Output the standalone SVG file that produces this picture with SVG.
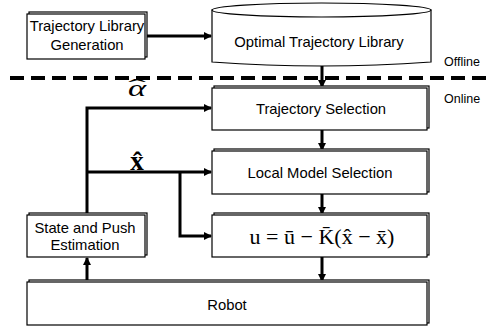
<svg xmlns="http://www.w3.org/2000/svg" width="487" height="326" viewBox="0 0 487 326">
<defs>
<style>
.box{fill:#fff;stroke:#000;stroke-width:1.2}
.t{font-family:"Liberation Sans",Arial,sans-serif;font-size:14.8px;text-anchor:middle;fill:#000}
.s{font-family:"Liberation Sans",Arial,sans-serif;font-size:12.5px;fill:#000}
.c{fill:none;stroke:#000;stroke-width:3}
.m{font-family:"Liberation Serif","DejaVu Serif",serif;fill:#000;text-anchor:middle}
</style>
<marker id="ah" markerUnits="userSpaceOnUse" markerWidth="8" markerHeight="8" refX="7" refY="4" orient="auto">
<path d="M0,0 L8,4 L0,8 Z" fill="#000"/>
</marker>
</defs>
<rect width="487" height="326" fill="#fff"/>
<g id="connectors">
<line class="c" x1="147" y1="36" x2="211" y2="36" marker-end="url(#ah)"/>
<line class="c" x1="322" y1="66" x2="322" y2="87" marker-end="url(#ah)"/>
<line class="c" x1="322" y1="130" x2="322" y2="150" marker-end="url(#ah)"/>
<line class="c" x1="322" y1="194" x2="322" y2="214" marker-end="url(#ah)"/>
<line class="c" x1="322" y1="257" x2="322" y2="281" marker-end="url(#ah)"/>
<line class="c" x1="87" y1="282" x2="87" y2="258" marker-end="url(#ah)"/>
<polyline class="c" points="87,215 87,108 211,108" marker-end="url(#ah)"/>
<line class="c" x1="87" y1="172" x2="211" y2="172" marker-end="url(#ah)"/>
<polyline class="c" points="180,172 180,236 211,236" marker-end="url(#ah)"/>
<line x1="10" y1="78" x2="487" y2="78" stroke="#000" stroke-width="4" stroke-dasharray="14,7"/>
</g>
<g id="tlg">
<rect class="box" x="29" y="12" width="118" height="45"/>
<rect class="box" x="27" y="14" width="118" height="45"/>
<text class="t" x="87" y="31">Trajectory Library</text>
<text class="t" x="87" y="50">Generation</text>
</g>
<g id="library">
<path class="box" d="M212,10 L212,62 Q321.5,70 431,62 L431,10 Z"/>
<ellipse class="box" cx="321.5" cy="10" rx="109.5" ry="7"/>
<text class="t" x="319" y="47">Optimal Trajectory Library</text>
</g>
<g id="labels">
<text class="s" x="444" y="66">Offline</text>
<text class="s" x="444" y="103">Online</text>
<text class="m" x="0" y="0" font-size="23" font-style="italic" transform="translate(137,96) scale(1.5,1)">α</text>
<text class="m" x="0" y="0" font-size="22" transform="translate(137,94) scale(2.4,1)">ˆ</text>
<text class="m" x="137" y="170" font-size="27" font-weight="bold">x̂</text>
</g>
<g id="ts">
<rect class="box" x="214" y="86" width="215" height="42"/>
<rect class="box" x="212" y="88" width="215" height="42"/>
<text class="t" x="321" y="114">Trajectory Selection</text>
</g>
<g id="lms">
<rect class="box" x="214" y="149" width="215" height="43"/>
<rect class="box" x="212" y="151" width="215" height="43"/>
<text class="t" x="320" y="178">Local Model Selection</text>
</g>
<g id="control">
<rect class="box" x="214" y="213" width="215" height="42"/>
<rect class="box" x="212" y="215" width="215" height="42"/>
<text class="m" x="322" y="244" font-size="22">u = ū − K̄(x̂ − x̄)</text>
</g>
<g id="spe">
<rect class="box" x="29" y="213" width="118" height="42"/>
<rect class="box" x="27" y="215" width="118" height="42"/>
<text class="t" x="85" y="233">State and Push</text>
<text class="t" x="85" y="250">Estimation</text>
</g>
<g id="robot">
<rect class="box" x="29" y="280" width="400" height="43"/>
<rect class="box" x="27" y="282" width="400" height="43"/>
<text class="t" x="227" y="310">Robot</text>
</g>
</svg>
